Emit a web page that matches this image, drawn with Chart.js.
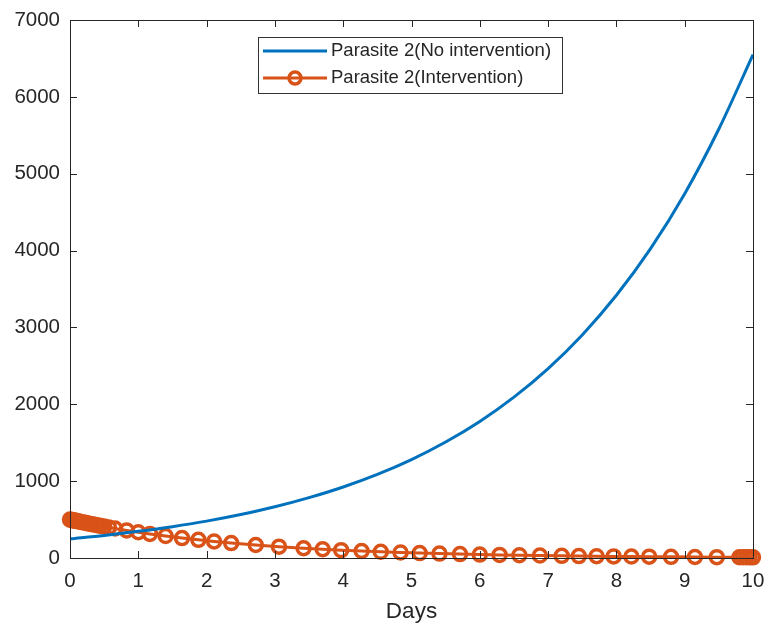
<!DOCTYPE html>
<html>
<head>
<meta charset="utf-8">
<script src="https://cdn.jsdelivr.net/npm/chart.js@4"></script>
<style>
  body { margin: 0; background: #fff; }
  #wrap { width: 767px; height: 625px; }
</style>
</head>
<body>
<div id="wrap"><canvas id="myChart" width="767" height="625"></canvas></div>
<script>
// values
const daysNoInt = [0, 0.5, 1, 1.5, 2, 2.5, 3, 3.5, 4, 4.5, 5, 5.5, 6, 6.5, 7, 7.5, 8, 8.5, 9, 9.5, 10]
const parasiteNoInt = [250, 294, 347, 408, 480, 566, 666, 785, 924, 1088, 1281, 1509, 1777, 2093, 2464, 2902, 3418, 4025, 4740, 5582, 6550]

const daysInt = [0, 0.02, 0.04, 0.06, 0.08, 0.1, 0.13, 0.16, 0.2, 0.24, 0.28, 0.33, 0.38, 0.44, 0.5, 0.57,
    0.66, 0.83, 1.0, 1.17, 1.4, 1.64, 1.88, 2.11, 2.36, 2.72, 3.06, 3.42, 3.7, 3.97, 4.27, 4.55, 4.84,
    5.12, 5.41, 5.71, 6.0, 6.29, 6.58, 6.88, 7.2, 7.45, 7.71, 7.96, 8.22, 8.48, 8.8, 9.15, 9.47,
    9.8, 9.85, 9.9, 9.95, 10]
const parasiteInt = [500, 496, 492, 488, 484, 480, 475, 469, 462, 454, 447, 438, 430, 419, 409, 398,
    384, 359, 335, 313, 286, 259, 236, 215, 194, 169, 147, 127, 114, 102, 91, 81, 72,
    64, 57, 51, 45, 40, 36, 32, 28, 25, 23, 21, 19, 17, 15, 13, 11,
    10, 10, 10, 9, 9]

const xTicks = [0, 1, 2, 3, 4, 5, 6, 7, 8, 9, 10]
const yTicks = [0, 1000, 2000, 3000, 4000, 5000, 6000, 7000]
const legendLabels = ['Parasite 2(No intervention)', 'Parasite 2(Intervention)']

const blue = '#0072BD'
const orange = '#D95319'
const axisColor = '#262626'
const fontFamily = 'Liberation Sans, Arial, Helvetica, sans-serif'

// MATLAB style box, inward ticks and legend inside the axes
const matlabBox = {
    id: 'matlabBox',
    afterDraw(chart) {
        const c = chart.ctx
        const a = chart.chartArea
        const xs = chart.scales.x
        const ys = chart.scales.y
        c.save()
        c.strokeStyle = axisColor
        c.lineWidth = 1
        c.strokeRect(a.left + 0.5, a.top + 0.5, a.right - a.left, a.bottom - a.top)
        c.beginPath()
        for (let t of xTicks) {
            let px = Math.round(xs.getPixelForValue(t)) + 0.5
            c.moveTo(px, a.bottom); c.lineTo(px, a.bottom - 7)
            c.moveTo(px, a.top); c.lineTo(px, a.top + 7)
        }
        for (let t of yTicks) {
            let py = Math.round(ys.getPixelForValue(t)) + 0.5
            c.moveTo(a.left, py); c.lineTo(a.left + 7, py)
            c.moveTo(a.right, py); c.lineTo(a.right - 7, py)
        }
        c.stroke()

        // legend
        const lx = 258, ly = 37, lw = 304, lh = 56
        c.fillStyle = '#fff'
        c.fillRect(lx, ly, lw, lh)
        c.strokeStyle = '#333'
        c.strokeRect(lx + 0.5, ly + 0.5, lw, lh)
        const rows = [ly + 14, ly + 41]
        c.lineWidth = 3
        c.strokeStyle = blue
        c.beginPath(); c.moveTo(263, rows[0]); c.lineTo(327, rows[0]); c.stroke()
        c.strokeStyle = orange
        c.beginPath(); c.moveTo(263, rows[1]); c.lineTo(327, rows[1]); c.stroke()
        c.lineWidth = 3.5
        c.beginPath(); c.arc(295, rows[1], 6, 0, Math.PI * 2); c.stroke()
        c.fillStyle = axisColor
        c.font = '18.5px ' + fontFamily
        c.textBaseline = 'middle'
        c.fillText(legendLabels[0], 331, rows[0])
        c.fillText(legendLabels[1], 331, rows[1])
        c.restore()
    }
}

const ctx = document.getElementById('myChart').getContext('2d')
const myChart = new Chart(ctx, {
    type: 'line',
    data: {
        datasets: [{
            label: legendLabels[0],
            data: daysNoInt.map((d, i) => ({ x: d, y: parasiteNoInt[i] })),
            borderColor: blue,
            borderWidth: 3,
            pointRadius: 0,
            cubicInterpolationMode: 'monotone'
        },
        {
            label: legendLabels[1],
            data: daysInt.map((d, i) => ({ x: d, y: parasiteInt[i] })),
            borderColor: orange,
            borderWidth: 3,
            pointRadius: 6.5,
            pointBorderWidth: 3.5,
            pointBorderColor: orange,
            pointBackgroundColor: 'rgba(0,0,0,0)',
            clip: false
        }]
    },
    options: {
        responsive: false,
        animation: false,
        layout: { padding: { top: 20, right: 14, left: 0, bottom: 0 } },
        plugins: {
            legend: { display: false },
            tooltip: { enabled: false }
        },
        scales: {
            x: {
                type: 'linear',
                min: 0,
                max: 10,
                afterFit: s => { s.height = 67; s.paddingLeft = 0; s.paddingRight = 0 },
                afterBuildTicks: s => { s.ticks = xTicks.map(v => ({ value: v })) },
                grid: { display: false, drawTicks: false },
                border: { display: false },
                ticks: { color: axisColor, padding: 11, font: { size: 20.5, family: fontFamily } },
                title: { display: true, text: 'Days', color: axisColor, padding: { top: 2, bottom: 0 }, font: { size: 22.5, family: fontFamily } }
            },
            y: {
                min: 0,
                max: 7000,
                afterFit: s => { s.width = 70; s.paddingTop = 0; s.paddingBottom = 0 },
                afterBuildTicks: s => { s.ticks = yTicks.map(v => ({ value: v })) },
                grid: { display: false, drawTicks: false },
                border: { display: false },
                ticks: { color: axisColor, padding: 10, font: { size: 20.5, family: fontFamily }, callback: v => String(v) }
            }
        }
    },
    plugins: [matlabBox]
})
</script>
</body>
</html>
